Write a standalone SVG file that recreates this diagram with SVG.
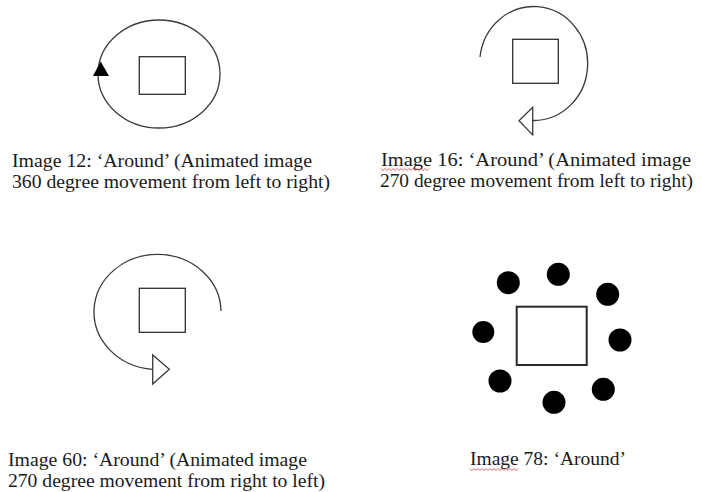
<svg xmlns="http://www.w3.org/2000/svg" width="702" height="492" viewBox="0 0 702 492">
  <style>
    .orbit { fill: none; stroke: #3a3a3a; stroke-width: 1.3; }
    .box { fill: #ffffff; stroke: #2e2e2e; stroke-width: 1.3; }
    .box-bold { fill: #ffffff; stroke: #2a2a2a; stroke-width: 2; }
    .head-open { fill: #ffffff; stroke: #3a3a3a; stroke-width: 1.3; stroke-linejoin: miter; }
    .head-solid { fill: #000000; stroke: none; }
    .dot { fill: #000000; }
    .caption { font-family: "Liberation Serif", "Times New Roman", serif; font-size: 18.5px; fill: #1a1a1a; }
    .squiggle { fill: none; stroke: #d23a3a; stroke-width: 0.8; }
  </style>
  <rect width="702" height="492" fill="#ffffff"/>

  <!-- Around: 360 degree, left to right -->
  <g id="around-12">
    <ellipse class="orbit" cx="159" cy="74" rx="61" ry="54"/>
    <polygon class="head-solid" points="100.7,61.5 93,76 109,76"/>
    <rect class="box" x="139.3" y="56.7" width="46" height="37.6"/>
    <text class="caption" x="12" y="166.5" textLength="300" lengthAdjust="spacingAndGlyphs">Image 12: ‘Around’ (Animated image</text>
    <text class="caption" x="12" y="187.5" textLength="318" lengthAdjust="spacingAndGlyphs">360 degree movement from left to right)</text>
  </g>

  <!-- Around: 270 degree, left to right -->
  <g id="around-16">
    <path class="orbit" d="M480,57 A54,57 0 1 1 532.7,120.5"/>
    <polygon class="head-open" points="532.7,107.3 532.7,135 519,120.7"/>
    <rect class="box" x="512.7" y="39.3" width="45.6" height="44"/>
    <text class="caption" x="381" y="166" textLength="310" lengthAdjust="spacingAndGlyphs">Image 16: ‘Around’ (Animated image</text>
    <text class="caption" x="380" y="187" textLength="313" lengthAdjust="spacingAndGlyphs">270 degree movement from left to right)</text>
    <path class="squiggle" d="M381,168.5 l2,2 l2,-2 l2,2 l2,-2 l2,2 l2,-2 l2,2 l2,-2 l2,2 l2,-2 l2,2 l2,-2 l2,2 l2,-2 l2,2 l2,-2 l2,2 l2,-2 l2,2 l2,-2 l2,2 l2,-2 l2,2 l2,-2"/>
  </g>

  <!-- Around: 270 degree, right to left -->
  <g id="around-60">
    <path class="orbit" d="M221,311 A63.5,57.5 0 1 0 152.7,369.3"/>
    <polygon class="head-open" points="152.7,355 152.7,384 169.3,369.3"/>
    <rect class="box" x="139.3" y="288.3" width="46" height="44"/>
    <text class="caption" x="8" y="466" textLength="299" lengthAdjust="spacingAndGlyphs">Image 60: ‘Around’ (Animated image</text>
    <text class="caption" x="8" y="487" textLength="317" lengthAdjust="spacingAndGlyphs">270 degree movement from right to left)</text>
  </g>

  <!-- Around: ring of dots -->
  <g id="around-78">
    <circle class="dot" cx="508.3" cy="282.7" r="11.5"/>
    <circle class="dot" cx="558.3" cy="274.3" r="11.5"/>
    <circle class="dot" cx="607.7" cy="294.3" r="11.5"/>
    <circle class="dot" cx="483.3" cy="332" r="11"/>
    <circle class="dot" cx="620" cy="340" r="11.5"/>
    <circle class="dot" cx="500" cy="381" r="11.5"/>
    <circle class="dot" cx="554" cy="402.3" r="11.5"/>
    <circle class="dot" cx="603.3" cy="389.3" r="11.5"/>
    <rect class="box-bold" x="516.7" y="306.7" width="70" height="58.3"/>
    <text class="caption" x="470" y="464.5" textLength="156" lengthAdjust="spacingAndGlyphs">Image 78: ‘Around’</text>
    <path class="squiggle" d="M470,468.5 l2,2 l2,-2 l2,2 l2,-2 l2,2 l2,-2 l2,2 l2,-2 l2,2 l2,-2 l2,2 l2,-2 l2,2 l2,-2 l2,2 l2,-2 l2,2 l2,-2 l2,2 l2,-2 l2,2 l2,-2 l2,2 l2,-2"/>
  </g>
</svg>
